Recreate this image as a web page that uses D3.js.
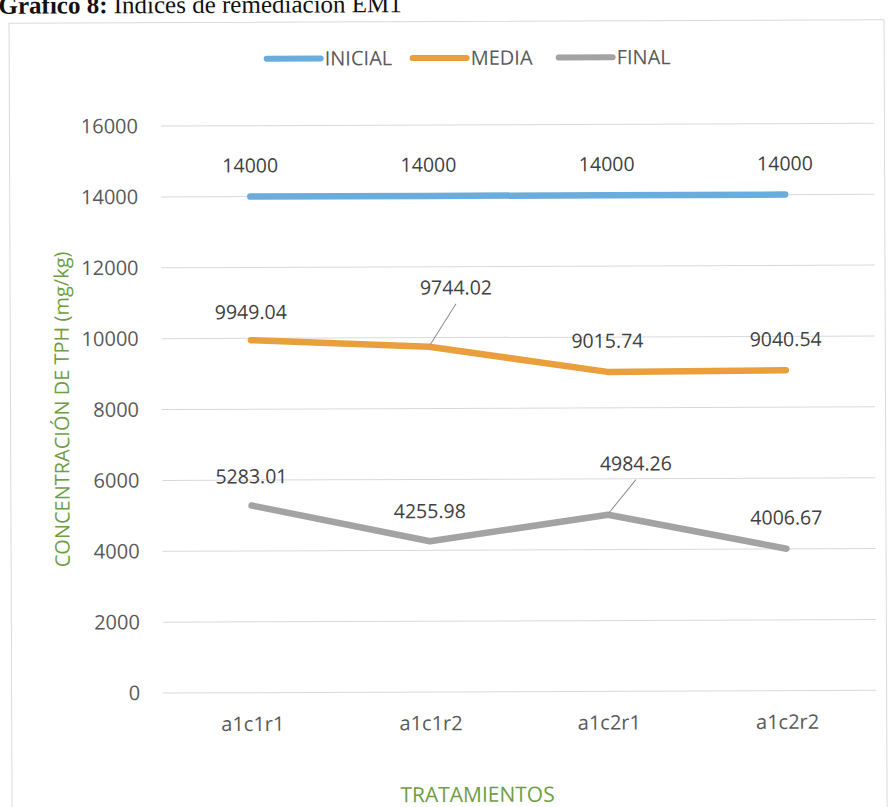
<!DOCTYPE html>
<html>
<head>
<meta charset="utf-8">
<script src="https://cdn.jsdelivr.net/npm/d3@7/dist/d3.min.js"></script>
<style>
  html, body { margin: 0; padding: 0; background: #ffffff; }
  svg { display: block; }
</style>
</head>
<body>
<svg id="chart" width="890" height="807"></svg>
<script>
// Treatments on the x axis
const categories = ["a1c1r1", "a1c1r2", "a1c2r1", "a1c2r2"];
// TPH concentration (mg/kg) per stage
const inicial = [14000, 14000, 14000, 14000];
const media = [9949.04, 9744.02, 9015.74, 9040.54];
const final = [5283.01, 4255.98, 4984.26, 4006.67];
const seriesNames = ["INICIAL", "MEDIA", "FINAL"];
const yTicks = [0, 2000, 4000, 6000, 8000, 10000, 12000, 14000, 16000];

const colors = { INICIAL: "#6aaddc", MEDIA: "#e9a03c", FINAL: "#a3a3a3" };
const series = [
  { name: "INICIAL", values: inicial },
  { name: "MEDIA", values: media },
  { name: "FINAL", values: final }
];

// label placement per point: [dx, dy] from the point; leader lines where the label was moved
const labelOffsets = {
  INICIAL: [[0, -31], [0, -31], [0, -31], [0, -31]],
  MEDIA: [[0, -28], [27, -59], [0, -31], [0, -31]],
  FINAL: [[0, -29], [0, -30], [28, -51], [0, -31]]
};
const leaders = { MEDIA: [1], FINAL: [2] };

const svg = d3.select("#chart");
const font = "'Open Sans', 'Noto Sans', sans-serif";

// the whole page is slightly tilted
const root = svg.append("g").attr("transform", "rotate(-0.22 445 400)");

// page title above the chart frame (its top runs off the page)
const title = root.append("text")
  .attr("x", 0).attr("y", 12)
  .attr("font-family", "'Liberation Serif', 'Times New Roman', serif")
  .attr("font-size", 25)
  .attr("fill", "#111");
title.append("tspan").attr("font-weight", "bold").text("Gráfico 8:");
title.append("tspan").text(" Índices de remediación EM1");

// chart area frame
root.append("rect")
  .attr("x", 10.5).attr("y", 21.5)
  .attr("width", 875).attr("height", 830)
  .attr("fill", "#fff")
  .attr("stroke", "#d9d9d9").attr("stroke-width", 1);

const x = d3.scalePoint().domain(categories).range([162, 875]).padding(0.5);
const y = d3.scaleLinear().domain([0, 16000]).range([692, 125]);

// gridlines
root.append("g")
  .selectAll("line")
  .data(yTicks)
  .join("line")
  .attr("x1", 162).attr("x2", 875)
  .attr("y1", d => y(d)).attr("y2", d => y(d))
  .attr("stroke", "#d9d9d9").attr("stroke-width", 1);

// y axis tick labels
const yAxis = root.append("g")
  .attr("transform", "translate(139,0)")
  .call(d3.axisLeft(y).tickValues(yTicks).tickSize(0).tickPadding(0).tickFormat(d3.format("d")));
yAxis.select(".domain").remove();
yAxis.selectAll("text")
  .attr("font-family", font).attr("font-size", 20).attr("fill", "#595959");

// x axis category labels
const xAxis = root.append("g")
  .attr("transform", "translate(0,692)")
  .call(d3.axisBottom(x).tickSize(0).tickPadding(24));
xAxis.select(".domain").remove();
xAxis.selectAll("text")
  .attr("font-family", font).attr("font-size", 20).attr("fill", "#595959");

// axis titles
root.append("text")
  .attr("x", 476).attr("y", 802)
  .attr("text-anchor", "middle")
  .attr("font-family", font).attr("font-size", 21).attr("fill", "#6e9e44")
  .text("TRATAMIENTOS");

root.append("text")
  .attr("transform", "translate(69,408) rotate(-90)")
  .attr("text-anchor", "middle")
  .attr("font-family", font).attr("font-size", 20).attr("fill", "#6e9e44")
  .text("CONCENTRACIÓN DE TPH (mg/kg)");

// legend
const legendItems = [
  { name: "INICIAL", x1: 268, x2: 322 },
  { name: "MEDIA", x1: 414, x2: 468 },
  { name: "FINAL", x1: 560, x2: 614 }
];
const legend = root.append("g");
legendItems.forEach(it => {
  legend.append("line")
    .attr("x1", it.x1).attr("x2", it.x2).attr("y1", 58).attr("y2", 58)
    .attr("stroke", colors[it.name]).attr("stroke-width", 6).attr("stroke-linecap", "round");
  legend.append("text")
    .attr("x", it.x2 + 4).attr("y", 58).attr("dy", "0.35em")
    .attr("font-family", font).attr("font-size", 20).attr("fill", "#595959")
    .text(it.name);
});

// series lines
const line = d3.line()
  .x((d, i) => x(categories[i]))
  .y(d => y(d));

root.append("g")
  .selectAll("path")
  .data(series)
  .join("path")
  .attr("d", s => line(s.values))
  .attr("fill", "none")
  .attr("stroke", s => colors[s.name])
  .attr("stroke-width", 6.5)
  .attr("stroke-linecap", "round")
  .attr("stroke-linejoin", "round");

// leader lines for moved labels
series.forEach(s => {
  (leaders[s.name] || []).forEach(i => {
    const px = x(categories[i]), py = y(s.values[i]);
    const [dx, dy] = labelOffsets[s.name][i];
    root.append("line")
      .attr("x1", px + dx).attr("y1", py + dy + 16)
      .attr("x2", px + 1).attr("y2", py - 2)
      .attr("stroke", "#8c8c8c").attr("stroke-width", 1);
  });
});

// data labels
series.forEach(s => {
  root.append("g")
    .selectAll("text")
    .data(s.values)
    .join("text")
    .attr("x", (d, i) => x(categories[i]) + labelOffsets[s.name][i][0])
    .attr("y", (d, i) => y(d) + labelOffsets[s.name][i][1])
    .attr("dy", "0.35em")
    .attr("text-anchor", "middle")
    .attr("font-family", font).attr("font-size", 19.5).attr("fill", "#404040")
    .text(d => String(d));
});
</script>
</body>
</html>
